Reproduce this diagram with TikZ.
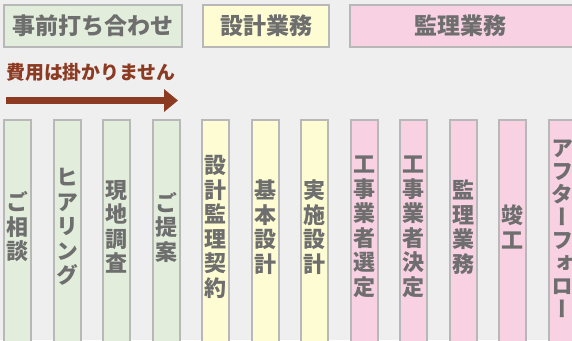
\documentclass[tikz,border=0pt]{standalone}
\usepackage{fontspec}
\usetikzlibrary{arrows.meta}
\newfontfamily\jp{Noto Sans CJK JP}
\newfontfamily\jpv{Noto Sans CJK JP}[RawFeature=+vert]
\definecolor{bgc}{HTML}{EFEFEF}
\definecolor{grn}{HTML}{E2EEDB}
\definecolor{ylw}{HTML}{FEFCD3}
\definecolor{pnk}{HTML}{F8D1E3}
\definecolor{bdr}{HTML}{B8B8B8}
\definecolor{txt}{HTML}{6E6E6E}
\definecolor{rust}{HTML}{8C3A21}
\tikzset{
  hbox/.style={draw=bdr, line width=2pt, inner sep=0pt, outer sep=0pt, minimum height=42pt,
    text=txt, font=\jp\bfseries\fontsize{23}{23}\selectfont},
  colbox/.style={draw=bdr, line width=2pt, inner sep=0pt, outer sep=0pt,
    minimum width=27.3pt, minimum height=230pt, anchor=north},
  vtxt/.style={text=txt, align=center, inner sep=0pt, font=\jpv\bfseries\fontsize{22}{24.5}\selectfont},
}
\begin{document}
\begin{tikzpicture}[x=1pt,y=-1pt]
\useasboundingbox (0,0) rectangle (572,340);
\fill[bgc] (0,0) rectangle (572,340);
\clip (0,0) rectangle (572,340);
% header boxes
\node[hbox, fill=grn, minimum width=177.5pt] (h1) at (92.75,26) {事前打ち合わせ};
\node[hbox, fill=ylw, minimum width=126pt] (h2) at (266,26) {設計業務};
\node[hbox, fill=pnk, minimum width=226pt] (h3) at (463,26) {};
\node[text=txt, font=\jp\bfseries\fontsize{23}{23}\selectfont, inner sep=0pt] (h3t) at (460,26) {監理業務};
% note and arrow
\node[text=rust, font=\jp\bfseries\fontsize{18.9}{19}\selectfont, anchor=west, inner sep=0pt] (note) at (6,72) {費用は掛かりません};
\coordinate (a0) at (6,100.5);
\coordinate (a1) at (178,100.5);
\draw[rust, line width=6.5pt, -{Triangle[length=14pt,width=22pt]}] (a0) -- (a1);
% columns
\foreach \i/\c/\t in {0/grn/ご\\相\\談, 1/grn/ヒ\\ア\\リ\\ン\\グ, 2/grn/現\\地\\調\\査, 3/grn/ご\\提\\案,
  4/ylw/設\\計\\監\\理\\契\\約, 5/ylw/基\\本\\設\\計, 6/ylw/実\\施\\設\\計,
  7/pnk/工\\事\\業\\者\\選\\定, 8/pnk/工\\事\\業\\者\\決\\定, 9/pnk/監\\理\\業\\務,
  10/pnk/竣\\工}{
  \node[colbox, fill=\c] (c\i) at ({17.7+49.5*\i},120) {};
  \node[vtxt] (t\i) at ({17.7+49.5*\i},227) {\t};
}
\node[colbox, fill=pnk] (c11) at ({17.7+49.5*11},120) {};
\node[vtxt, font=\jpv\bfseries\fontsize{22}{23}\selectfont] (t11) at ({17.7+49.5*11},229) {ア\\フ\\タ\\ー\\フ\\ォ\\ロ\\ー};
\end{tikzpicture}
\end{document}
